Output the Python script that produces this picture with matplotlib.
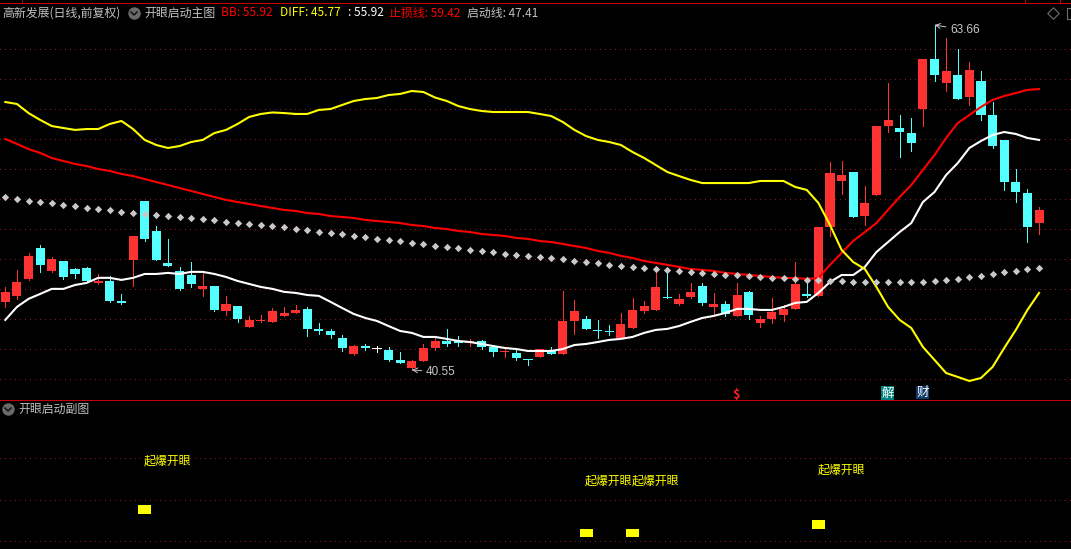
import numpy as np
import matplotlib
matplotlib.use("Agg")
import matplotlib.pyplot as plt

plt.rcParams['font.family'] = ['Noto Sans CJK SC', 'DejaVu Sans']

# daily candles
opens = [45.11,45.51,46.65,48.72,47.18,47.85,47.32,47.38,46.38,46.51,
         45.17,47.92,51.87,49.86,47.72,47.18,46.91,45.98,46.18,44.50,
         44.84,43.43,43.83,43.77,44.17,44.37,44.64,43.30,43.16,42.69,
         41.62,42.15,41.95,41.89,41.22,40.68,41.15,42.02,42.49,42.49,
         42.36,42.49,42.09,41.76,41.69,41.28,41.42,41.82,41.62,43.83,
         43.97,43.23,43.16,42.69,43.36,44.50,44.57,45.44,44.97,45.44,
         46.18,44.77,44.97,44.17,45.78,43.70,43.97,44.23,44.64,45.64,
         45.51,50.13,53.21,53.81,50.87,52.27,56.89,56.76,56.43,58.03,
         61.38,59.78,60.31,58.84,59.91,57.63,55.96,53.14,52.40,50.40]
closes = [45.78,46.45,48.19,47.59,47.99,46.78,46.98,46.51,46.51,45.17,
          45.04,49.53,49.33,47.92,47.52,45.98,46.31,46.18,44.57,44.97,
          43.97,43.90,43.90,44.50,44.37,44.57,43.30,43.16,42.89,42.02,
          42.15,42.02,41.95,41.22,41.02,41.15,42.02,42.49,42.29,42.36,
          42.49,42.09,41.76,41.82,41.35,41.22,41.95,41.62,43.83,44.50,
          43.30,43.16,43.10,43.63,44.57,44.84,46.11,45.37,45.31,45.78,
          45.04,44.97,44.30,45.57,44.23,43.97,44.44,44.64,46.31,45.51,
          50.13,53.75,53.61,50.80,51.74,56.89,57.30,56.49,55.76,61.38,
          60.31,60.58,58.70,60.65,57.63,55.56,53.14,52.47,50.13,51.27]
highs = [46.11,47.25,48.39,48.92,48.12,47.85,47.38,47.45,46.98,46.85,
         45.64,49.53,51.87,50.20,49.33,47.45,47.79,47.05,46.18,45.51,
         44.84,44.17,44.23,44.70,44.77,44.90,44.77,43.70,43.30,42.89,
         42.22,42.29,42.15,42.09,41.76,41.22,42.29,42.69,43.30,42.83,
         42.63,42.56,42.22,41.95,41.89,41.28,41.95,42.09,45.84,45.24,
         44.17,43.90,43.56,44.37,45.37,45.17,47.25,47.12,45.64,46.38,
         46.38,45.71,45.17,46.38,45.84,44.17,45.37,44.90,47.79,46.45,
         50.13,54.48,54.55,53.81,52.88,56.89,59.78,57.63,57.43,61.38,
         63.66,62.79,62.05,61.18,60.58,58.50,55.96,54.02,52.67,51.47]
lows = [44.77,45.31,46.58,47.12,47.12,46.65,46.72,46.51,46.31,45.11,
        44.97,46.18,49.19,47.92,47.52,45.91,46.11,45.51,44.50,44.23,
        43.77,43.43,43.77,43.77,44.17,44.37,42.83,42.96,42.69,41.82,
        41.55,41.89,41.76,41.15,41.02,40.55,41.15,41.89,42.15,42.15,
        42.15,41.95,41.49,41.42,41.22,40.88,41.42,41.62,41.62,42.96,
        43.30,42.69,42.89,42.69,43.36,44.37,44.57,45.37,44.90,45.37,
        44.90,44.30,44.17,44.17,43.97,43.43,43.70,43.83,44.64,45.44,
        45.51,49.53,52.34,50.80,50.26,52.27,56.49,54.82,55.22,56.89,
        59.91,59.24,58.70,58.30,57.30,55.42,52.61,51.80,49.12,49.66]

# white line
qidong = [43.90,44.77,45.31,45.64,45.98,45.98,46.24,46.38,46.72,46.72,
          46.58,46.72,46.98,46.98,47.05,46.98,47.12,47.12,46.98,46.78,
          46.51,46.31,46.11,45.98,45.78,45.71,45.57,45.51,45.11,44.70,
          44.30,44.03,43.83,43.49,43.16,43.03,42.76,42.76,42.63,42.49,
          42.42,42.29,42.15,42.02,41.95,41.82,41.82,41.82,41.95,42.22,
          42.29,42.42,42.56,42.63,42.76,43.03,43.23,43.30,43.49,43.77,
          44.03,44.17,44.37,44.64,44.64,44.57,44.57,44.77,45.04,45.11,
          45.71,46.44,46.91,46.91,47.45,48.45,49.12,49.79,50.39,51.80,
          52.47,53.61,54.41,55.42,55.89,56.29,56.49,56.36,56.09,55.96]
# red line
zhisun = [56.02,55.69,55.35,55.09,54.75,54.55,54.35,54.21,54.01,53.88,
          53.68,53.54,53.34,53.14,52.94,52.74,52.54,52.34,52.14,51.94,
          51.80,51.67,51.53,51.40,51.27,51.20,51.06,51.00,50.86,50.80,
          50.73,50.60,50.53,50.46,50.39,50.26,50.19,50.06,49.99,49.86,
          49.79,49.66,49.59,49.53,49.39,49.33,49.19,49.12,48.99,48.85,
          48.72,48.52,48.39,48.19,48.05,47.85,47.72,47.59,47.45,47.31,
          47.25,47.18,47.05,46.98,46.91,46.85,46.78,46.71,46.71,46.65,
          46.71,47.59,48.39,49.19,49.79,50.39,51.27,52.14,52.94,53.95,
          54.95,56.09,57.09,57.63,58.17,58.64,58.90,59.10,59.31,59.37]
# yellow line
diff = [58.50,58.37,57.76,57.30,56.89,56.76,56.63,56.69,56.69,57.03,
        57.23,56.69,55.96,55.62,55.42,55.55,55.82,55.96,56.42,56.63,
        57.03,57.50,57.70,57.80,57.76,57.70,57.70,57.97,58.03,58.30,
        58.57,58.70,58.77,58.97,59.04,59.24,59.17,58.80,58.57,58.23,
        58.03,57.90,57.83,57.83,57.83,57.83,57.70,57.56,57.16,56.63,
        56.22,55.96,55.82,55.62,55.15,54.75,54.28,53.81,53.54,53.28,
        53.07,53.07,53.07,53.07,53.07,53.21,53.21,53.21,52.81,52.61,
        51.74,50.26,48.59,47.78,47.31,46.11,44.77,43.90,43.36,42.09,
        41.22,40.34,40.08,39.81,40.01,40.75,42.02,43.23,44.57,45.71]
# gray dotted line
bb = [52.14,52.00,51.87,51.80,51.74,51.60,51.53,51.40,51.33,51.27,
      51.13,51.06,51.00,50.93,50.86,50.80,50.73,50.66,50.60,50.46,
      50.39,50.33,50.26,50.19,50.13,49.99,49.93,49.79,49.72,49.66,
      49.53,49.46,49.33,49.26,49.19,49.06,48.99,48.85,48.79,48.72,
      48.59,48.52,48.45,48.32,48.25,48.19,48.12,48.05,47.99,47.85,
      47.79,47.72,47.59,47.52,47.45,47.38,47.32,47.25,47.18,47.12,
      47.05,46.98,46.91,46.91,46.85,46.78,46.71,46.71,46.65,46.58,
      46.58,46.51,46.51,46.44,46.44,46.44,46.44,46.44,46.44,46.44,
      46.51,46.58,46.65,46.78,46.85,46.98,47.12,47.18,47.31,47.38]

grid_prices = [62.05,60.04,58.03,56.02,54.01,52.00,49.99,47.98,45.97,43.96,41.95,39.94]

# lower panel signals
signal_days = [12, 50, 54, 70]
signal_low = [35, 12, 12, 20]
signal_high = [44, 20, 20, 29]
signal_text = [88, 68, 68, 79]
sub_grid = [8, 49, 91]

BG = '#000000'
UP = '#ff3232'
DOWN = '#54ffff'
GRID = '#8b1a1a'
GRAY = '#c8c8c8'
FRAME = '#c80000'

W, H = 1071, 549
fig = plt.figure(figsize=(W / 100, H / 100), dpi=100, facecolor=BG)
ax = fig.add_axes([0, 149 / H, 1, 400 / H], facecolor=BG)
sub = fig.add_axes([0, 0, 1, 148 / H], facecolor=BG)
over = fig.add_axes([0, 0, 1, 1])  # pixel overlay for header, icons
over.set_xlim(0, W)
over.set_ylim(H, 0)
over.patch.set_alpha(0)
for a in (ax, sub, over):
    a.axis('off')

days = np.arange(len(opens))
o, c, h, l = map(np.array, (opens, closes, highs, lows))
ax.set_xlim(-0.456, 91.75)
ax.set_ylim(38.535, 65.335)
sub.set_xlim(-0.456, 91.75)
sub.set_ylim(0, 148)

dots = (0, (1, 5))
ax.hlines(grid_prices, -0.456, 91.75, colors=GRID, lw=0.72, linestyles=dots, zorder=1, antialiased=False)
sub.hlines(sub_grid, -0.456, 91.75, colors=GRID, lw=0.72, linestyles=dots, zorder=1, antialiased=False)

colors = np.where(c > o, UP, np.where(c < o, DOWN, '#ffffff'))
ax.vlines(days, l, h, colors=colors, lw=0.72, zorder=2, antialiased=False)
ax.bar(days, np.maximum(np.abs(c - o), 0.07), bottom=np.minimum(o, c), width=0.78,
       color=colors, linewidth=0, zorder=3, antialiased=False)

ax.plot(days, qidong, color='#ffffff', lw=1.5, zorder=4)
ax.plot(days, zhisun, color='#ff0000', lw=1.5, zorder=4)
ax.plot(days, diff, color='#ffff00', lw=1.5, zorder=4)
ax.scatter(days, bb, marker='D', s=14, color=GRAY, linewidths=0, zorder=5)

# high / low labels
ax.annotate('63.66', xy=(days[80], highs[80]), xytext=(950, 30), textcoords=over.transData,
            color=GRAY, fontsize=8.5, va='center', family=['Liberation Sans'],
            arrowprops=dict(arrowstyle='->', color=GRAY, lw=0.7, shrinkA=1, shrinkB=0))
ax.annotate('40.55', xy=(days[35], lows[35]), xytext=(426, 372), textcoords=over.transData,
            color=GRAY, fontsize=8.5, va='center', family=['Liberation Sans'],
            arrowprops=dict(arrowstyle='->', color=GRAY, lw=0.7, shrinkA=1, shrinkB=0))

# lower panel
sub.bar(signal_days, np.array(signal_high) - np.array(signal_low), bottom=signal_low,
        width=1.12, color='#ffff00', linewidth=0, antialiased=False)
for d, t in zip(signal_days, signal_text):
    sub.text(d - 0.1, t, '起爆开眼', color='#ffff00', fontsize=8.6, va='center', ha='left')

# frame lines
over.add_patch(plt.Rectangle((0, 400), W, 1, color=FRAME, lw=0, antialiased=False))
over.add_patch(plt.Rectangle((0, 3), W, 1, color=FRAME, lw=0, antialiased=False))
for tick_x in (22, 1025, 1060):
    over.plot([tick_x, tick_x], [0, 3], color=FRAME, lw=0.72, antialiased=False)


def circle_icon(x, y):
    over.scatter([x], [y], s=80, color='#6a6a6a', linewidths=0, zorder=6)
    over.plot([x - 3, x, x + 3], [y - 1, y + 2, y - 1], color='#111111', lw=1.1, zorder=7)


circle_icon(134, 13)
circle_icon(8, 409)

# header line
header = [
    (2, '高新发展(日线,前复权)', '#c0c0c0'),
    (144, '开眼启动主图', '#c0c0c0'),
    (221, 'BB: 55.92', '#ff0000'),
    (280, 'DIFF: 45.77', '#ffff00'),
    (348, ': 55.92', '#ffffff'),
    (389, '止损线: 59.42', '#ff0000'),
    (467, '启动线: 47.41', '#c0c0c0'),
]
for x, s, col in header:
    over.text(x, 13, s, color=col, fontsize=8.6, va='center', ha='left')
over.text(18, 409, '开眼启动副图', color='#c0c0c0', fontsize=8.6, va='center', ha='left')

# markers under the candles
over.text(736, 394, '$', color='#ff2020', fontsize=9, ha='center', va='center', weight='bold')
over.add_patch(plt.Rectangle((881, 386), 13, 14, color='#007f7f', lw=0))
over.text(887.5, 393, '解', color='#ffffff', fontsize=9, ha='center', va='center')
over.add_patch(plt.Rectangle((916, 386), 13, 13, color='#103a6a', lw=0))
over.text(922.5, 392.5, '财', color='#ffffff', fontsize=9, ha='center', va='center')

# small window icons, top right
over.scatter([1053.5], [13.5], marker='D', s=34, facecolors='none', edgecolors='#707070', linewidths=0.8)
over.plot([1071, 1067, 1067, 1071], [8, 8, 19, 19], color='#707070', lw=0.8)

fig.savefig('out.png', dpi=100, facecolor=BG)
